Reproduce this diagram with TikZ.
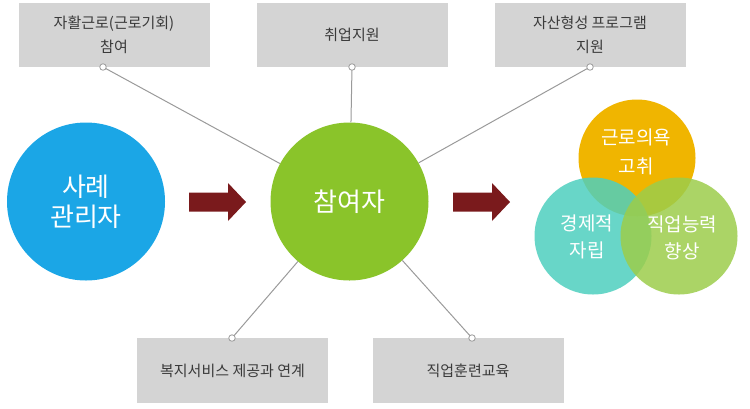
\documentclass[tikz,border=0pt]{standalone}
\usepackage{fontspec}
\setmainfont{Noto Sans CJK KR}
\usetikzlibrary{shapes.geometric}
\definecolor{boxgray}{HTML}{D4D4D4}
\definecolor{boxtext}{HTML}{3A3A3A}
\definecolor{linegray}{HTML}{9A9A9A}
\definecolor{cblue}{HTML}{1BA6E6}
\definecolor{cgreen}{HTML}{8AC42A}
\definecolor{arrowred}{HTML}{7A1A1C}
\definecolor{vorange}{HTML}{F0B500}
\definecolor{vteal}{HTML}{4ECFBE}
\definecolor{vgreen}{HTML}{9CCD4B}
\tikzset{
  infobox/.style={rectangle, fill=boxgray, inner sep=0pt, minimum width=191pt, minimum height=64pt,
    text=boxtext, align=center, font=\fontsize{15}{24}\selectfont},
  bigcircle/.style={circle, minimum size=158pt, inner sep=0pt, text=white, align=center,
    font=\fontsize{26}{30}\selectfont},
  venn/.style={circle, minimum size=117pt, inner sep=0pt},
  venntext/.style={text=white, align=center, font=\fontsize{19}{27}\selectfont},
  conn/.style={draw=linegray, line width=1pt},
  dotmark/.style={circle, fill=white, draw=linegray, line width=0.8pt, minimum size=6.5pt, inner sep=0pt},
  blockarrow/.pic={\fill[arrowred] (0,-9.5) -- (39,-9.5) -- (39,-19) -- (57,0) -- (39,19) -- (39,9.5) -- (0,9.5) -- cycle;}
}
\begin{document}
\begin{tikzpicture}[x=1pt,y=-1pt]
\useasboundingbox (0,0) rectangle (750,408);
% boxes
\node[infobox] (b1) at (114,35) {자활근로(근로기회)\\참여};
\node[infobox] (b2) at (352,35) {취업지원};
\node[infobox] (b3) at (590,35) {자산형성 프로그램\\지원};
\node[infobox, minimum height=65pt] (b4) at (232.5,370.5) {복지서비스 제공과 연계};
\node[infobox, minimum height=65pt] (b5) at (468,370.5) {직업훈련교육};
% main circles
\node[bigcircle, fill=cblue] (mgr) at (86,201.5) {사례\\관리자};
\node[bigcircle, fill=cgreen] (part) at (349.5,201.5) {참여자};
% arrows
\pic at (189,202) {blockarrow};
\pic at (453,202) {blockarrow};
% venn
\node[venn, fill=vorange] (v1) at (637,158) {};
\node[venn, fill=vteal, fill opacity=0.85] (v2) at (593,236) {};
\node[venn, fill=vgreen, fill opacity=0.85] (v3) at (679,236) {};
\node[venntext, font=\fontsize{19}{29}\selectfont] (t1) at (636,151.5) {근로의욕\\고취};
\node[venntext] (t2) at (587,237) {경제적\\자립};
\node[venntext] (t3) at (682,238) {직업능력\\향상};
% connector dots
\coordinate (d1) at (103,67);
\coordinate (d2) at (352,67);
\coordinate (d3) at (590,67);
\coordinate (d4) at (232,338);
\coordinate (d5) at (472,338);
\foreach \d in {d1,d2,d3,d4,d5} {\draw[conn] (\d) -- (part);}
\foreach \d in {d1,d2,d3,d4,d5} {\node[dotmark] at (\d) {};}
\end{tikzpicture}
\end{document}
